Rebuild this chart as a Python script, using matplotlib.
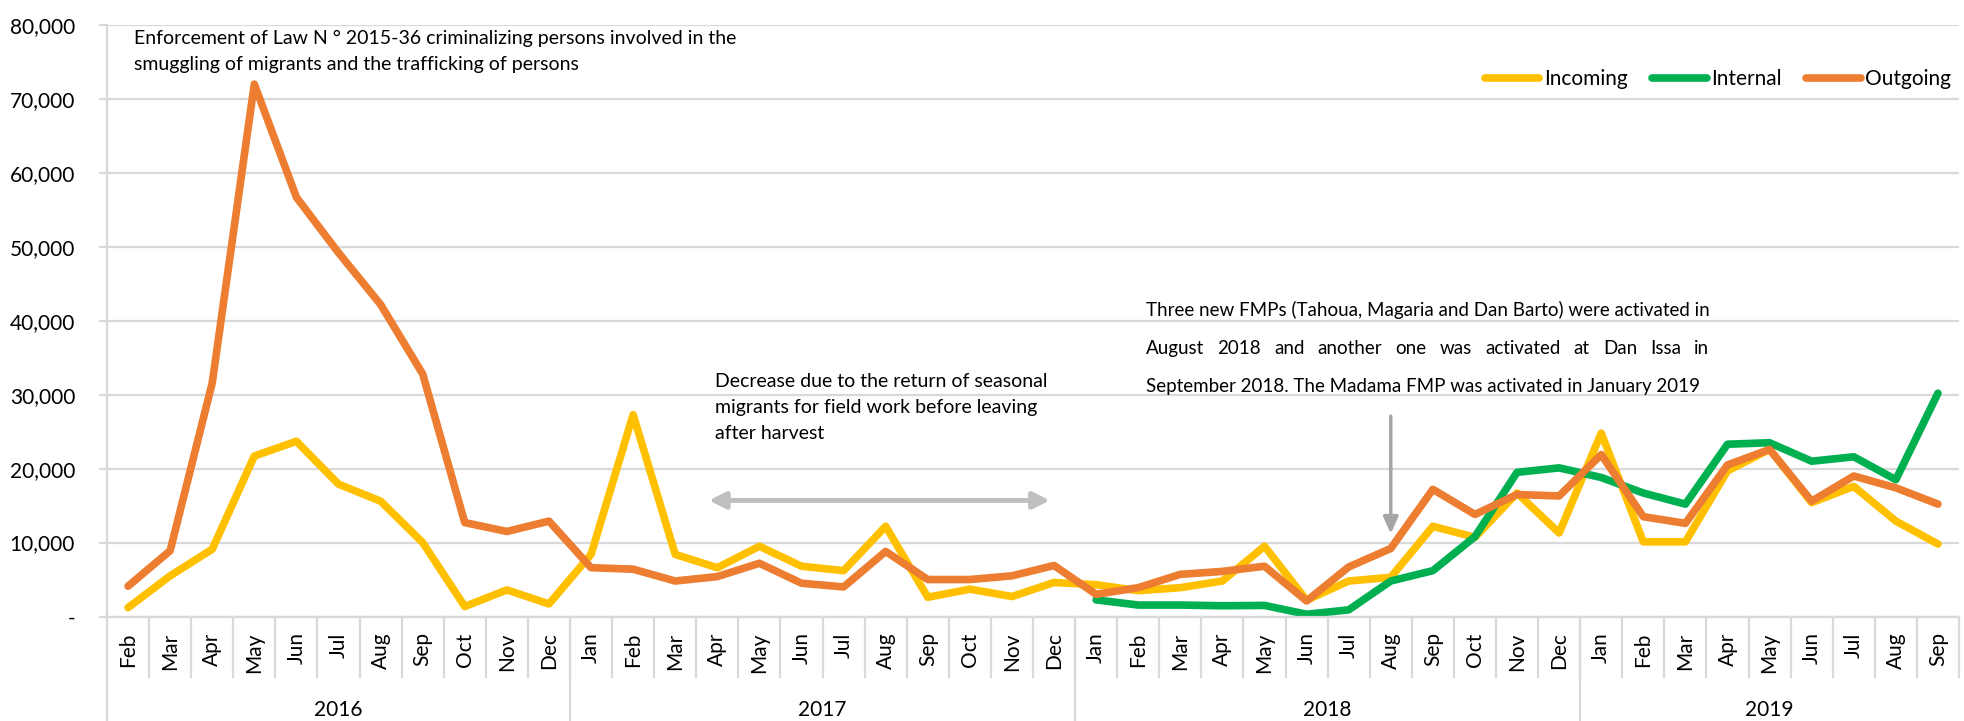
import matplotlib
matplotlib.use('Agg')
import matplotlib.pyplot as plt
from matplotlib.transforms import offset_copy, blended_transform_factory

plt.rcParams['font.family'] = ['Lato', 'DejaVu Sans']

months = ['Feb', 'Mar', 'Apr', 'May', 'Jun', 'Jul', 'Aug', 'Sep', 'Oct', 'Nov', 'Dec',
          'Jan', 'Feb', 'Mar', 'Apr', 'May', 'Jun', 'Jul', 'Aug', 'Sep', 'Oct', 'Nov', 'Dec',
          'Jan', 'Feb', 'Mar', 'Apr', 'May', 'Jun', 'Jul', 'Aug', 'Sep', 'Oct', 'Nov', 'Dec',
          'Jan', 'Feb', 'Mar', 'Apr', 'May', 'Jun', 'Jul', 'Aug', 'Sep']
years = ['2016', '2017', '2018', '2019']
months_per_year = [11, 12, 12, 9]

incoming = [1200, 5500, 9100, 21700, 23700, 17900, 15600, 10000, 1350, 3600, 1700,
            8400, 27300, 8400, 6600, 9500, 6800, 6200, 12200, 2600, 3700, 2700, 4600,
            4300, 3500, 3900, 4800, 9500, 2200, 4800, 5300, 12200, 10700, 16700, 11300,
            24800, 10100, 10100, 19700, 22600, 15400, 17600, 12900, 9800]
internal = [None] * 23 + [2250, 1550, 1550, 1450, 1500, 300, 900, 4800, 6200, 10800, 19500, 20100,
                          18800, 16700, 15200, 23300, 23500, 21000, 21600, 18500, 30200]
outgoing = [4100, 8900, 31600, 72000, 56700, 49200, 42200, 32800, 12700, 11500, 12900,
            6600, 6400, 4800, 5400, 7200, 4500, 4000, 8800, 5000, 5000, 5500, 6900,
            3000, 3900, 5700, 6100, 6800, 2100, 6700, 9200, 17200, 13800, 16500, 16300,
            21900, 13500, 12600, 20500, 22600, 15600, 19000, 17400, 15200]

c_in, c_int, c_out = '#FFC000', '#00B050', '#ED7D31'
grid_c = '#D9D9D9'

fig = plt.figure(figsize=(19.64, 7.21), dpi=100)
ax = fig.add_axes([107 / 1964, 1 - 616.5 / 721, 1852 / 1964, 591.5 / 721])

x = list(range(len(months)))
ax.plot(x, incoming, color=c_in, lw=5.5, solid_capstyle='round', solid_joinstyle='round', label='Incoming')
ax.plot(x, internal, color=c_int, lw=5.5, solid_capstyle='round', solid_joinstyle='round', label='Internal')
ax.plot(x, outgoing, color=c_out, lw=5.5, solid_capstyle='round', solid_joinstyle='round', label='Outgoing')

ax.set_xlim(-0.5, len(months) - 0.5)
ax.set_ylim(0, 80000)
ax.set_yticks(range(0, 80001, 10000))
ax.set_yticklabels(['-' if v == 0 else f'{v:,}' for v in range(0, 80001, 10000)], fontsize=15)
ax.yaxis.grid(True, color=grid_c, lw=1.6)
ax.set_axisbelow(True)
ax.tick_params(axis='y', length=6, width=1.6, color=grid_c, pad=17)
ax.set_xticks(x)
ax.set_xticklabels(months, rotation=90, fontsize=15, va='top')
ax.tick_params(axis='x', length=0, pad=11.5)
for s in ['top', 'right', 'left']:
    ax.spines[s].set_visible(False)
ax.spines['bottom'].set_color(grid_c)
ax.spines['bottom'].set_linewidth(1.6)

# category separators below the axis
trans = blended_transform_factory(ax.transData, ax.transAxes)
for i in range(len(months)):
    ax.plot([i + 0.5, i + 0.5], [0, -0.102], transform=trans, color=grid_c, lw=1.6, clip_on=False)
start = -0.5
for k, (yr, n) in enumerate(zip(years, months_per_year)):
    top = 1 if k == 0 else 0
    ax.plot([start, start], [top, -0.18], transform=trans, color=grid_c, lw=1.6, clip_on=False)
    ax.text(start + n / 2, -0.158, yr, transform=trans, ha='center', va='center', fontsize=15)
    start += n

ax.legend(loc='center right', bbox_to_anchor=(1.0, 0.909), ncol=3, frameon=False, fontsize=15,
          handlelength=2.6, handletextpad=0.2, columnspacing=1.2, borderaxespad=0)

ax.text(0.14, 79300, 'Enforcement of Law N ° 2015-36 criminalizing persons involved in the\n'
        'smuggling of migrants and the trafficking of persons',
        fontsize=14, va='top', ha='left', linespacing=1.62)

ax.text(13.94, 32900, 'Decrease due to the return of seasonal\nmigrants for field work before leaving\nafter harvest',
        fontsize=14, va='top', ha='left', linespacing=1.62)
ax.annotate('', xy=(13.8, 15700), xytext=(21.9, 15700),
            arrowprops=dict(arrowstyle='<|-|>,head_length=1.0,head_width=0.5', color='#BFBFBF', lw=3.5,
                            shrinkA=0, shrinkB=0))
ax.annotate('', xy=(30, 11200), xytext=(30, 27100),
            arrowprops=dict(arrowstyle='-|>,head_length=1.0,head_width=0.45', color='#A6A6A6', lw=2.5,
                            shrinkA=0, shrinkB=0))

# justified note about new FMPs
note_x = 24.18
line1 = 'Three new FMPs (Tahoua, Magaria and Dan Barto) were activated in'
line2 = 'August 2018 and another one was activated at Dan Issa in'
line3 = 'September 2018. The Madama FMP was activated in January 2019'
t1 = ax.text(note_x, 41400, line1, fontsize=13.5, va='center', ha='left')
ax.text(note_x, 31150, line3, fontsize=13.5, va='center', ha='left')
fig.canvas.draw()
r = fig.canvas.get_renderer()
w1 = t1.get_window_extent(r).width
words = line2.split()
tmp = [ax.text(0, 0, w, fontsize=13.5) for w in words]
ws = [t.get_window_extent(r).width for t in tmp]
for t in tmp:
    t.remove()
gap = (w1 - sum(ws)) / (len(words) - 1)
off = 0
for w, wd in zip(words, ws):
    ax.text(note_x, 36300, w, fontsize=13.5, va='center', ha='left',
            transform=offset_copy(ax.transData, fig=fig, x=off, y=0, units='dots'))
    off += wd + gap

fig.savefig('out.png', dpi=100)
